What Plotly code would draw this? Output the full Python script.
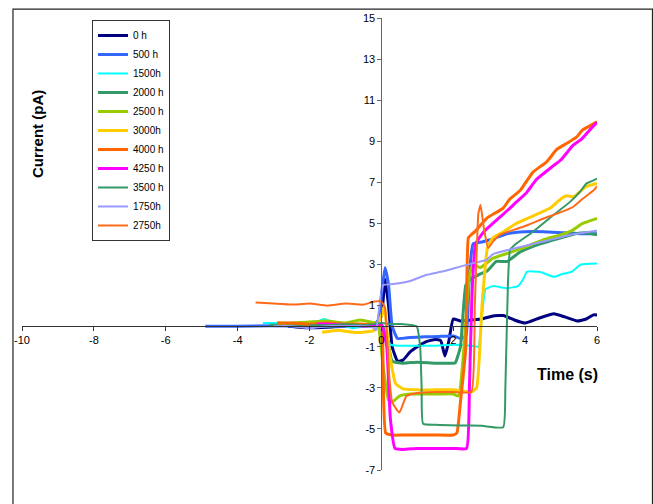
import plotly.graph_objects as go

# ---- data (time in s, current in pA) ----
t_0h = [-2.6, -2.0, -1.5, -1.0, -0.5, -0.2, 0.0, 0.1, 0.2, 0.3, 0.45, 0.6, 0.8, 1.0, 1.25, 1.5, 1.65, 1.77, 1.88, 2.0, 2.2, 2.5, 2.8, 3.1, 3.4, 3.7, 4.0, 4.4, 4.8, 5.1, 5.45, 5.7, 5.9, 6.0]
i_0h = [0.0, -0.08, -0.05, 0.0, 0.0, 0.05, 0.5, 2.3, 1.0, -1.0, -1.7, -1.65, -1.25, -1.0, -0.75, -0.65, -0.7, -1.45, -0.7, 0.35, 0.25, 0.3, 0.35, 0.5, 0.52, 0.3, 0.15, 0.4, 0.6, 0.45, 0.25, 0.35, 0.55, 0.55]

t_500h = [-4.9, -4.0, -3.0, -2.0, -1.0, -0.5, -0.1, 0.0, 0.1, 0.2, 0.3, 0.45, 0.8, 1.2, 1.6, 2.0, 2.2, 2.35, 2.45, 2.55, 2.8, 3.1, 3.5, 4.0, 4.5, 5.0, 5.5, 6.0]
i_500h = [0.0, 0.0, 0.02, 0.0, 0.0, 0.0, 0.2, 1.5, 2.85, 2.0, 0.0, -0.6, -0.55, -0.52, -0.5, -0.48, -0.6, -0.5, 2.5, 4.0, 4.1, 4.25, 4.5, 4.6, 4.6, 4.55, 4.5, 4.5]

t_1500h = [-3.3, -3.0, -2.5, -2.0, -1.6, -1.2, -0.8, -0.4, -0.1, 0.1, 0.25, 0.5, 1.0, 1.5, 2.0, 2.5, 2.7, 2.8, 2.9, 3.1, 3.5, 3.8, 3.95, 4.05, 4.4, 4.8, 5.05, 5.3, 5.55, 6.0]
i_1500h = [0.15, 0.15, 0.1, 0.05, 0.35, 0.1, -0.1, 0.0, -0.1, -0.3, -0.9, -0.95, -0.95, -0.95, -0.9, -0.95, -1.0, 0.5, 1.8, 1.95, 1.85, 1.95, 2.3, 2.65, 2.65, 2.4, 2.55, 2.65, 3.0, 3.05]

t_2000h = [-3.1, -2.5, -2.0, -1.5, -1.0, -0.5, 0.0, 0.15, 0.3, 0.6, 1.0, 1.5, 1.9, 2.05, 2.2, 2.35, 2.5, 2.7, 2.95, 3.2, 3.5, 3.85, 4.1, 4.4, 4.7, 5.0, 5.4, 5.7, 6.0]
i_2000h = [0.05, 0.05, 0.05, 0.0, 0.05, 0.05, 0.05, -0.5, -1.7, -1.8, -1.75, -1.8, -1.8, -1.8, -1.0, 2.0, 2.3, 2.5, 2.7, 3.15, 3.15, 3.6, 3.8, 4.0, 4.15, 4.3, 4.5, 4.55, 4.45]

t_2500h = [-2.9, -2.5, -2.0, -1.5, -1.0, -0.6, -0.3, -0.1, 0.05, 0.2, 0.3, 0.5, 0.8, 1.2, 1.6, 2.0, 2.15, 2.3, 2.45, 2.55, 2.75, 3.1, 3.6, 4.0, 4.5, 5.0, 5.3, 5.6, 6.0]
i_2500h = [0.15, 0.15, 0.2, 0.25, 0.15, 0.3, 0.2, 0.1, -2.0, -3.6, -3.7, -3.4, -3.3, -3.3, -3.3, -3.3, -3.4, -1.0, 2.5, 3.0, 2.85, 3.3, 3.6, 3.85, 4.2, 4.45, 4.65, 5.0, 5.25]

t_3000h = [-1.65, -1.2, -0.8, -0.5, -0.2, 0.0, 0.08, 0.2, 0.4, 0.6, 1.0, 1.5, 2.0, 2.5, 2.65, 2.8, 2.95, 3.1, 3.4, 3.75, 4.2, 4.7, 5.0, 5.15, 5.35, 5.7, 6.0]
i_3000h = [-0.3, -0.2, -0.3, -0.3, -0.2, 0.5, 1.0, -1.0, -2.8, -3.05, -3.1, -3.1, -3.1, -3.2, -3.0, 1.0, 3.8, 4.3, 4.6, 5.0, 5.35, 5.75, 6.2, 6.35, 6.3, 6.8, 6.95]

t_4000h = [-2.9, -2.5, -2.0, -1.5, -1.0, -0.5, -0.2, 0.0, 0.05, 0.12, 0.3, 0.6, 1.0, 1.5, 2.0, 2.1, 2.2, 2.35, 2.42, 2.5, 2.6, 2.93, 3.39, 3.58, 3.86, 4.22, 4.6, 4.88, 5.16, 5.43, 5.6, 5.8, 6.0]
i_4000h = [0.15, 0.15, 0.1, 0.15, 0.1, 0.1, 0.05, 0.0, -2.5, -5.2, -5.3, -5.3, -5.3, -5.3, -5.3, -5.2, -3.7, -1.0, 4.3, 4.45, 4.6, 5.25, 5.75, 6.2, 6.6, 7.5, 8.0, 8.6, 8.9, 9.2, 9.55, 9.75, 9.95]

t_4250h = [-1.8, -1.5, -1.0, -0.5, -0.2, 0.0, 0.15, 0.25, 0.38, 0.6, 1.0, 1.5, 2.0, 2.37, 2.45, 2.52, 2.62, 2.85, 3.1, 3.58, 3.76, 4.04, 4.32, 4.78, 5.0, 5.33, 5.57, 5.8, 6.0]
i_4250h = [0.1, 0.1, 0.05, 0.0, 0.05, 0.1, -1.0, -4.5, -5.95, -6.0, -5.95, -5.95, -5.95, -5.95, -3.0, 1.5, 4.0, 4.6, 5.0, 5.75, 6.05, 6.5, 7.15, 7.8, 8.1, 8.8, 9.1, 9.55, 9.92]

t_3500h = [-2.0, -1.5, -1.0, -0.5, 0.0, 0.3, 0.6, 0.98, 1.08, 1.12, 1.16, 1.5, 2.2, 2.8, 3.39, 3.45, 3.52, 3.58, 3.72, 4.22, 4.78, 5.25, 5.53, 5.71, 5.9, 6.0]
i_3500h = [0.05, 0.05, 0.1, 0.05, 0.15, 0.1, 0.1, 0.0, -1.0, -3.0, -4.75, -4.8, -4.83, -4.85, -4.92, -3.0, 2.0, 3.7, 3.97, 4.6, 5.4, 6.05, 6.55, 6.95, 7.1, 7.18]

t_1750h = [-3.0, -2.5, -2.0, -1.5, -1.0, -0.5, -0.22, -0.15, 0.05, 0.33, 0.8, 1.26, 1.72, 2.19, 2.55, 2.93, 3.1, 3.58, 4.5, 5.25, 6.0]
i_1750h = [0.0, 0.0, -0.1, 0.0, 0.0, 0.0, -0.07, -0.2, 2.0, 2.05, 2.2, 2.5, 2.67, 2.9, 3.07, 3.23, 3.5, 3.73, 4.12, 4.44, 4.64]

t_2750h = [-3.5, -3.0, -2.5, -2.0, -1.5, -1.0, -0.5, -0.2, 0.0, 0.1, 0.2, 0.3, 0.5, 0.7, 1.0, 1.5, 2.0, 2.5, 2.6, 2.7, 2.76, 2.85, 2.97, 3.1, 3.3, 3.7, 4.04, 4.6, 5.0, 5.33, 5.6, 5.9, 6.0]
i_2750h = [1.15, 1.1, 1.05, 1.1, 1.0, 1.1, 1.05, 1.2, 1.2, 0.9, -2.0, -3.7, -4.2, -3.4, -3.25, -3.2, -3.2, -3.2, 1.0, 5.5, 5.9, 4.8, 3.8, 4.1, 4.45, 4.7, 4.9, 5.3, 5.55, 5.8, 6.2, 6.6, 6.8]

names = ["0 h", "500 h", "1500h", "2000 h", "2500 h", "3000h", "4000 h", "4250 h", "3500 h", "1750h", "2750h"]
times = [t_0h, t_500h, t_1500h, t_2000h, t_2500h, t_3000h, t_4000h, t_4250h, t_3500h, t_1750h, t_2750h]
currents = [i_0h, i_500h, i_1500h, i_2000h, i_2500h, i_3000h, i_4000h, i_4250h, i_3500h, i_1750h, i_2750h]
colors = ["#000080", "#3366FF", "#00FFFF", "#339966", "#99CC00", "#FFCC00", "#FF6600", "#FF00FF", "#339966", "#9999FF", "#FF6A1A"]
widths = [3, 3, 2, 3, 3, 3, 3, 3, 2, 2, 2]

x_ticks = list(range(-10, 7, 2))
y_ticks = list(range(-7, 16, 2))

FONT = "Liberation Sans, Arial, sans-serif"

fig = go.Figure()
for n, t, c, col, w in zip(names, times, currents, colors, widths):
    fig.add_trace(go.Scatter(x=t, y=c, mode="lines", name=n,
                             line=dict(color=col, width=w, shape="spline", smoothing=0.4)))

fig.update_layout(
    width=653, height=504,
    margin=dict(l=22, r=56, t=15, b=34),
    paper_bgcolor="white", plot_bgcolor="white",
    font=dict(family=FONT, size=11, color="black"),
    showlegend=True,
    legend=dict(x=0.1217, y=0.9956, xanchor="left", yanchor="top",
                bgcolor="white", bordercolor="#333333", borderwidth=1,
                font=dict(family=FONT, size=10, color="black"),
                tracegroupgap=0),
    xaxis=dict(range=[-10, 6], tickvals=x_ticks, ticktext=[str(v) for v in x_ticks],
               showgrid=False, zeroline=False, showline=True, linecolor="#333333", linewidth=1,
               ticks="outside", ticklen=4, tickcolor="#333333",
               anchor="free", position=7 / 22, tickfont=dict(family=FONT, size=11, color="black")),
    yaxis=dict(range=[-7, 15], tickvals=y_ticks, ticktext=[str(v) for v in y_ticks],
               showgrid=False, zeroline=False, showline=True, linecolor="#666666", linewidth=1,
               ticks="outside", ticklen=4, tickcolor="#666666",
               anchor="free", position=10 / 16, tickfont=dict(family=FONT, size=11, color="black")),
    shapes=[dict(type="rect", xref="paper", yref="paper",
                 x0=-0.0157, x1=1.0965, y0=-0.3, y1=1.0198,
                 line=dict(color="#222222", width=1.2), fillcolor="rgba(0,0,0,0)", layer="below")],
    annotations=[
        dict(text="<b>Current (pA)</b>", xref="paper", yref="paper", x=0.026, y=0.743,
             xanchor="center", yanchor="middle",
             textangle=-90, showarrow=False, font=dict(family=FONT, size=15, color="black")),
        dict(text="<b>Time (s)</b>", xref="paper", yref="paper", x=0.948, y=0.212,
             xanchor="center", yanchor="middle",
             showarrow=False, font=dict(family=FONT, size=16, color="black")),
    ],
)

fig.write_html("out.html", config={"displayModeBar": False},
               post_script="document.body.style.margin='0';document.body.style.overflow='hidden';")
